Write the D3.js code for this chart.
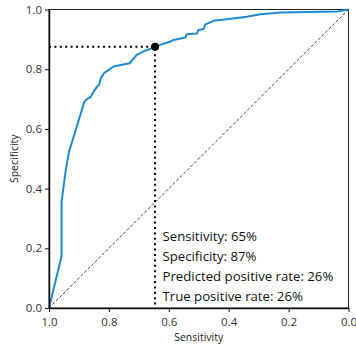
<!DOCTYPE html>
<html>
<head>
<meta charset="utf-8">
<script src="https://cdn.jsdelivr.net/npm/d3@7"></script>
<style>
  body { margin: 0; background: #fff; }
  svg { display: block; font-family: "Open Sans", sans-serif; }
</style>
</head>
<body>
<svg id="roc" width="356" height="348"></svg>
<script>
// ROC curve (sensitivity runs 1 -> 0 left to right)
var sensitivity = [1, 0.958, 0.958, 0.944, 0.933, 0.921, 0.882, 0.874, 0.860, 0.855, 0.840, 0.833,
  0.827, 0.815, 0.802, 0.785, 0.731, 0.707, 0.679, 0.645, 0.623, 0.595, 0.584, 0.545, 0.540,
  0.506, 0.501, 0.484, 0.478, 0.450, 0.406, 0.339, 0.294, 0.227, 0.038, 0];
var specificity = [0, 0.174, 0.356, 0.462, 0.524, 0.563, 0.691, 0.699, 0.708, 0.719, 0.741, 0.747,
  0.770, 0.788, 0.797, 0.809, 0.820, 0.848, 0.862, 0.875, 0.884, 0.892, 0.898, 0.906, 0.917,
  0.920, 0.931, 0.935, 0.950, 0.962, 0.967, 0.976, 0.984, 0.990, 0.993, 1];

// chosen cutoff
var cutSens = 0.646;
var cutSpec = 0.875;
var stats = ['Sensitivity: 65%', 'Specificity: 87%', 'Predicted positive rate: 26%', 'True positive rate: 26%'];
var ticks = [0, 0.2, 0.4, 0.6, 0.8, 1.0];

var svg = d3.select('#roc');
var margin = { top: 9.5, right: 7.5, bottom: 40, left: 49 };
var width = +svg.attr('width') - margin.left - margin.right;
var height = +svg.attr('height') - margin.top - margin.bottom;

var x = d3.scaleLinear().domain([1, 0]).range([0, width]);
var y = d3.scaleLinear().domain([0, 1]).range([height, 0]);

var g = svg.append('g').attr('transform', 'translate(' + margin.left + ',' + margin.top + ')');

// frame
g.append('rect')
  .attr('width', width)
  .attr('height', height)
  .attr('fill', 'none')
  .attr('stroke', '#222')
  .attr('stroke-width', 1);

// chance line
g.append('line')
  .attr('x1', x(1)).attr('y1', y(0))
  .attr('x2', x(0)).attr('y2', y(1))
  .attr('stroke', '#444')
  .attr('stroke-width', 1)
  .attr('stroke-dasharray', '3,2');

// dotted guide lines to the cutoff
g.append('path')
  .attr('d', 'M' + x(1) + ',' + y(cutSpec) + 'H' + x(cutSens) + 'V' + y(0))
  .attr('fill', 'none')
  .attr('stroke', '#000')
  .attr('stroke-width', 2)
  .attr('stroke-dasharray', '2,3.4');

var points = sensitivity.map(function(s, i) { return [s, specificity[i]]; });
var line = d3.line()
  .x(function(d) { return x(d[0]); })
  .y(function(d) { return y(d[1]); });

g.append('path')
  .datum(points)
  .attr('d', line)
  .attr('fill', 'none')
  .attr('stroke', '#1a8bd3')
  .attr('stroke-width', 2)
  .attr('stroke-linejoin', 'round');

g.append('circle')
  .attr('cx', x(cutSens))
  .attr('cy', y(cutSpec))
  .attr('r', 4)
  .attr('fill', '#000');

// stats text
g.append('g')
  .selectAll('text')
  .data(stats)
  .enter()
  .append('text')
  .attr('x', x(cutSens) + 7.5)
  .attr('y', function(d, i) { return y(0) - 67 + i * 20; })
  .attr('font-size', 13.2)
  .attr('fill', '#111')
  .text(function(d) { return d; });

// axes
var xAxis = g.append('g')
  .attr('transform', 'translate(0,' + height + ')')
  .call(d3.axisBottom(x).tickValues(ticks).tickFormat(d3.format('.1f')).tickSize(4).tickSizeOuter(0));
var yAxis = g.append('g')
  .call(d3.axisLeft(y).tickValues(ticks).tickFormat(d3.format('.1f')).tickSize(4).tickSizeOuter(0));

[xAxis, yAxis].forEach(function(a) {
  a.select('.domain').attr('stroke', '#111').attr('stroke-width', 1.5);
  a.selectAll('.tick line').attr('stroke', '#111');
  a.selectAll('.tick text').attr('fill', '#333').attr('font-size', 11.5).attr('font-family', '"Open Sans", sans-serif');
});
xAxis.selectAll('.tick text').attr('dy', '0.95em');

svg.append('text')
  .attr('x', margin.left + width / 2)
  .attr('y', 341)
  .attr('text-anchor', 'middle')
  .attr('font-size', 10.5)
  .attr('fill', '#222')
  .text('Sensitivity');

svg.append('text')
  .attr('transform', 'translate(18,' + (margin.top + height / 2) + ') rotate(-90)')
  .attr('text-anchor', 'middle')
  .attr('font-size', 10.5)
  .attr('fill', '#222')
  .text('Specificity');
</script>
</body>
</html>
